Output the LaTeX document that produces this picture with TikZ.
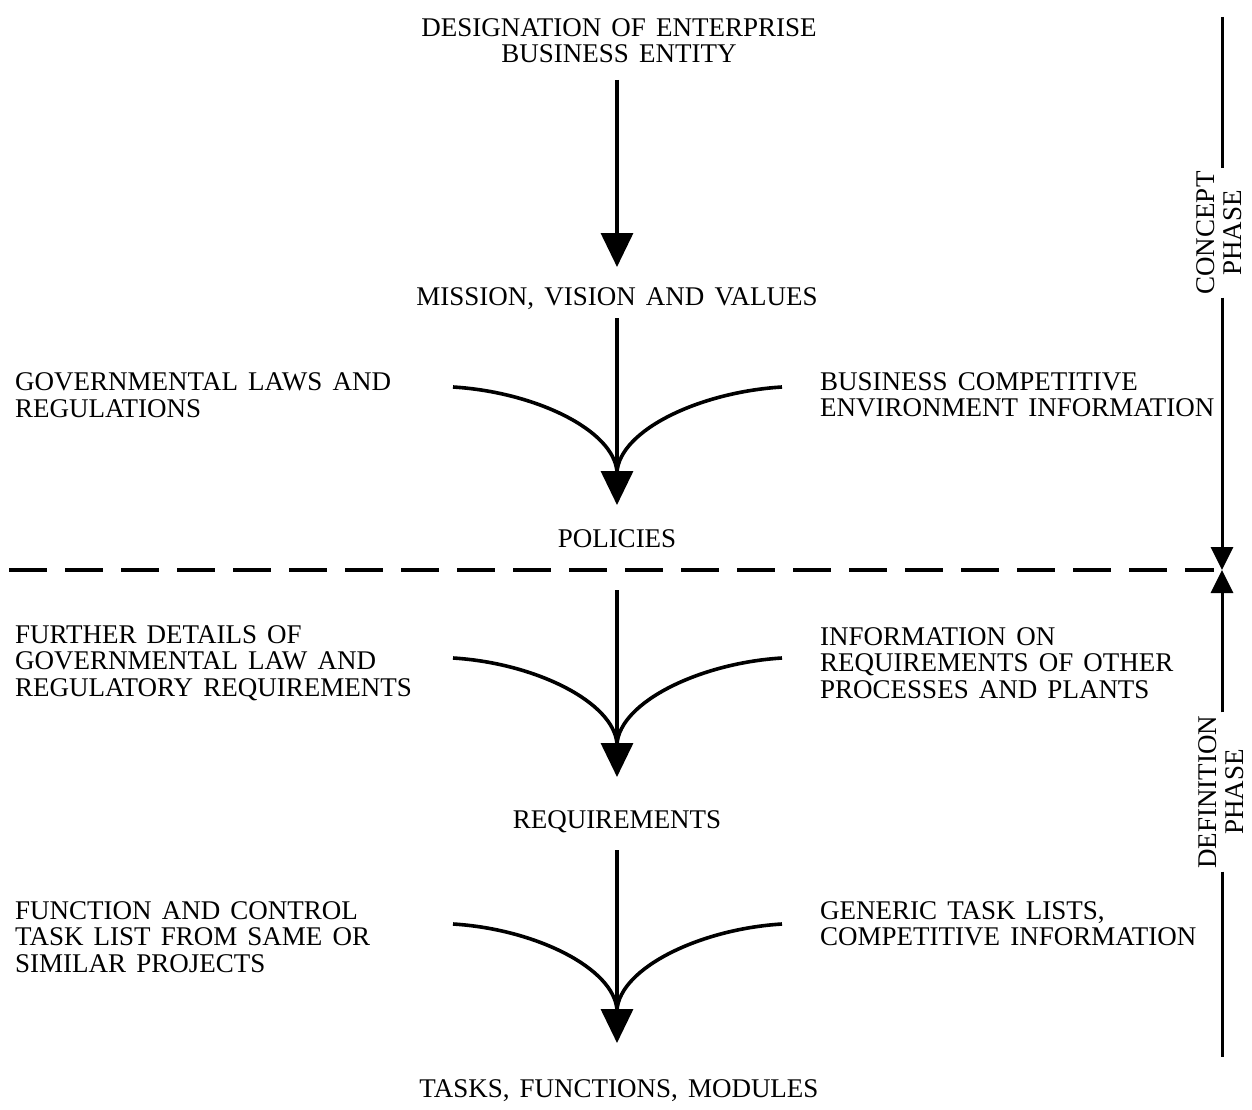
\documentclass[tikz,border=0pt]{standalone}
\usepackage{fontspec}
\setmainfont{Liberation Serif}[WordSpace=1.5]
\usetikzlibrary{arrows.meta}
\begin{document}
\begin{tikzpicture}[x=1pt,y=-1pt,
  lbl/.style={inner sep=0pt,font=\fontsize{27}{26.5}\selectfont},
  ctr/.style={lbl,align=center},
  lft/.style={lbl,align=left,anchor=west},
  mainline/.style={line width=3.4pt,draw=black},
  arr/.style={mainline,-{Triangle[width=32pt,length=34pt]}},
  feed/.style={line width=3.6pt,draw=black},
  bar/.style={line width=3pt,draw=black},
  bararr/.style={bar,-{Triangle[width=22pt,length=23pt]}},
  phase/.style={lbl,align=center,rotate=90,inner sep=3pt},
  sep/.style={line width=3.3pt,dash pattern=on 38pt off 18pt}
]
\useasboundingbox (0,0) rectangle (1252,1110);

% central column
\node[ctr] (desig) at (619,40.5) {DESIGNATION OF ENTERPRISE\\BUSINESS ENTITY};
\node[lbl,anchor=base] (mission) at (617,305) {MISSION, VISION AND VALUES};
\node[lbl,anchor=base] (policies) at (617,547) {POLICIES};
\node[lbl,anchor=base] (req) at (617,828) {REQUIREMENTS};
\node[lbl,anchor=base] (tasks) at (619,1097) {TASKS, FUNCTIONS, MODULES};

% side inputs
\node[lft] (gov) at (15,395) {GOVERNMENTAL LAWS AND\\REGULATIONS};
\node[lft] (bus) at (820,395) {BUSINESS COMPETITIVE\\ENVIRONMENT INFORMATION};
\node[lft] (further) at (15,663) {FURTHER DETAILS OF\\GOVERNMENTAL LAW AND\\REGULATORY REQUIREMENTS};
\node[lft] (info) at (820,663) {INFORMATION ON\\REQUIREMENTS OF OTHER\\PROCESSES AND PLANTS};
\node[lft] (func) at (15,937) {FUNCTION AND CONTROL\\TASK LIST FROM SAME OR\\SIMILAR PROJECTS};
\node[lft] (gen) at (820,924) {GENERIC TASK LISTS,\\COMPETITIVE INFORMATION};

% phase labels
\node[phase] (concept) at (1219,233) {CONCEPT\\PHASE};
\node[phase] (definition) at (1221,792) {DEFINITION\\PHASE};

% main arrows
\draw[arr,shorten <=39.5pt,shorten >=38pt] (desig.center -| mission.base) -- (mission.base);
\draw[arr,shorten <=13pt,shorten >=42pt] (mission.base) -- (policies.base);
\draw[arr,shorten <=43pt,shorten >=51pt] (policies.base) -- (req.base);
\draw[arr,shorten <=22pt,shorten >=54pt] (req.base) -- (tasks.base -| req.base);

% junctions and feed curves
\coordinate (j1) at (617,472);
\coordinate (j2) at (617,744);
\coordinate (j3) at (617,1010);
\coordinate (l1) at (453,387);
\coordinate (r1) at (782,387);
\coordinate (l2) at (453,658);
\coordinate (r2) at (782,658);
\coordinate (l3) at (453,924);
\coordinate (r3) at (782,924);
\foreach \a/\j in {l1/j1,l2/j2,l3/j3}{
  \draw[feed] (\a) .. controls +(82,5) and +(-3,-42) .. (\j);
}
\foreach \a/\j in {r1/j1,r2/j2,r3/j3}{
  \draw[feed] (\a) .. controls +(-82,5) and +(3,-42) .. (\j);
}

% phase bar
\coordinate (b0) at (1222,17);
\coordinate (b1) at (1222,570);
\coordinate (b2) at (1222,1057);
\draw[bar] (b0) -- (concept.east -| b0);
\draw[bararr] (concept.west -| b0) -- (b1);
\draw[bararr] (definition.east -| b0) -- (b1);
\draw[bar] (definition.west -| b0) -- (b2);

% phase separator
\coordinate (d0) at (9,570);
\coordinate (d1) at (1214,570);
\draw[sep] (d0) -- (d1);
\end{tikzpicture}
\end{document}
